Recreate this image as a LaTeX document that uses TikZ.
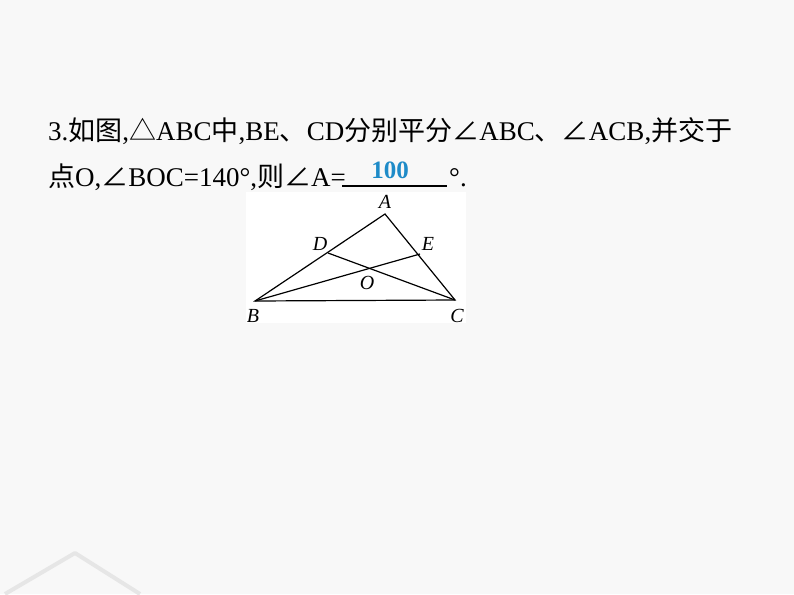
\documentclass[tikz,border=0pt]{standalone}
\usepackage{fontspec}
\setmainfont{Liberation Serif}
\newfontfamily\cjk{Noto Sans CJK SC}
\definecolor{bg}{HTML}{F8F8F8}
\definecolor{ansblue}{HTML}{1E8BC8}
\definecolor{decogray}{HTML}{E6E6E6}
\tikzset{
  lbl/.style={font=\fontsize{20}{20}\selectfont\itshape, inner sep=0pt},
  seg/.style={line width=1.2pt, black},
  txt/.style={anchor=base west, inner sep=0pt, font=\fontsize{27}{27}\selectfont}
}
\begin{document}
\begin{tikzpicture}[x=1pt,y=-1pt]
\fill[bg] (0,0) rectangle (794,594);
\useasboundingbox (0,0) rectangle (794,594);
% decorations
\draw[draw=decogray, line width=4pt, line join=round] (5,594) -- (75,553) -- (140,594);
\fill[white] (246,192) rectangle (466,323);
% text
\node[txt] (l1) at (48,140) {3.{\cjk 如图},{\cjk △}ABC{\cjk 中},BE{\cjk 、}CD{\cjk 分别平分∠}ABC{\cjk 、∠}ACB,{\cjk 并交于}};
\node[txt] (l2) at (48,186) {{\cjk 点}O,{\cjk ∠}BOC=140°,{\cjk 则∠}A=};
\coordinate (u1) at (342,186);
\coordinate (u2) at (447,186);
\draw[line width=1.4pt] (u1) -- (u2);
\node[anchor=base, inner sep=0pt, font=\fontsize{25}{25}\selectfont\bfseries, text=ansblue] (ans) at (390,178) {100};
\node[txt] (deg) at (449,186) {°.};
% figure
\coordinate (A) at (385,214);
\coordinate (B) at (255,301);
\coordinate (C) at (455,300);
\coordinate (D) at (328,253);
\coordinate (E) at (420,254);
\coordinate (O) at (369,268);
\draw[seg] (A) -- (B) -- (C) -- cycle;
\draw[seg] (B) -- (E);
\draw[seg] (C) -- (D);
\node[lbl] (lA) at (385,202) {A};
\node[lbl] (lB) at (253,316) {B};
\node[lbl] (lC) at (457,316) {C};
\node[lbl] (lD) at (320,244) {D};
\node[lbl] (lE) at (428,244) {E};
\node[lbl] (lO) at (367,283) {O};
\end{tikzpicture}
\end{document}
